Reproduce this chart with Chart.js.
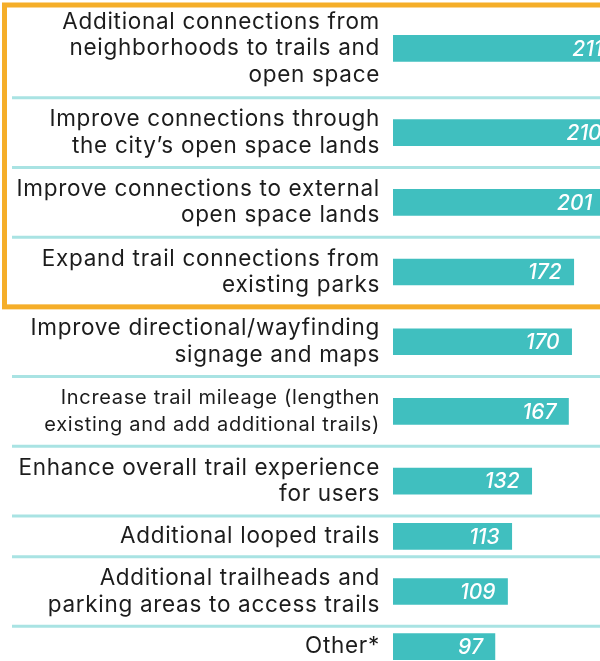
<!DOCTYPE html>
<html><head><meta charset="utf-8">
<script src="https://cdn.jsdelivr.net/npm/chart.js@4.4.0/dist/chart.umd.min.js"></script>
<style>
html,body{margin:0;padding:0;background:#fff;overflow:hidden;width:600px;height:661px}
#wrap{position:absolute;left:0;top:-1px;width:600px;height:668px}
</style>
</head><body><div id="wrap"><canvas id="c" width="600" height="668"></canvas></div>
<script>
const categories = [
  ["Additional connections from", "neighborhoods to trails and", "open space"],
  ["Improve connections through", "the city’s open space lands"],
  ["Improve connections to external", "open space lands"],
  ["Expand trail connections from", "existing parks"],
  ["Improve directional/wayfinding", "signage and maps"],
  ["Increase trail mileage (lengthen", "existing and add additional trails)"],
  ["Enhance overall trail experience", "for users"],
  ["Additional looped trails"],
  ["Additional trailheads and", "parking areas to access trails"],
  ["Other*"]
];
const values = [211, 210, 201, 172, 170, 167, 132, 113, 109, 97];
const highlightedCount = 4;

// row layout derived from label line counts
const rowSizes = categories.map(l => l.length + 0.4);
const rowStarts = [];
let acc = 0;
rowSizes.forEach(s => { rowStarts.push(acc); acc += s; });
const rowCenters = rowStarts.map((s, i) => s + rowSizes[i] / 2);
const totalRows = acc;

const FONT = "Inter, 'Open Sans', sans-serif";

const categoryLabels = {
  id: 'categoryLabels',
  afterDraw(chart) {
    const {ctx, scales: {y}, chartArea} = chart;
    ctx.save();
    ctx.fillStyle = '#1c1c1c';
    ctx.textAlign = 'right';
    ctx.textBaseline = 'middle';
    ctx.letterSpacing = '0.7px';
    const lh = 26.5;
    categories.forEach((lines, i) => {
      const longest = Math.max(...lines.map(l => l.length));
      const size = longest > 33 ? 20 : 22.5;
      ctx.font = `400 ${size}px ${FONT}`;
      const cy = y.getPixelForValue(rowCenters[i]);
      const y0 = cy - (lines.length - 1) * lh / 2;
      lines.forEach((line, j) => ctx.fillText(line, chartArea.left - 13, y0 + j * lh));
    });
    ctx.restore();
  }
};

const separators = {
  id: 'separators',
  beforeDatasetsDraw(chart) {
    const {ctx, scales: {y}, width} = chart;
    ctx.save();
    ctx.strokeStyle = '#a9e3e3';
    ctx.lineWidth = 3;
    rowStarts.forEach((s, i) => {
      if (i === 0 || i === highlightedCount) return;
      const py = y.getPixelForValue(s);
      ctx.beginPath();
      ctx.moveTo(12, py);
      ctx.lineTo(width, py);
      ctx.stroke();
    });
    ctx.restore();
  }
};

const highlightBox = {
  id: 'highlightBox',
  afterDatasetsDraw(chart) {
    const {ctx, scales: {y}, width} = chart;
    const top = y.getPixelForValue(0) + 6;
    const bottom = y.getPixelForValue(rowStarts[highlightedCount]);
    ctx.save();
    ctx.strokeStyle = '#f5ae29';
    ctx.lineWidth = 5;
    ctx.strokeRect(4.5, top, width + 20, bottom - top);
    ctx.restore();
  }
};

const valueLabels = {
  id: 'valueLabels',
  afterDatasetsDraw(chart) {
    const {ctx} = chart;
    const meta = chart.getDatasetMeta(0);
    ctx.save();
    ctx.fillStyle = '#ffffff';
    ctx.font = "italic 500 21px " + FONT;
    ctx.textAlign = 'right';
    ctx.textBaseline = 'middle';
    meta.data.forEach((bar, i) => {
      ctx.fillText(String(values[i]), bar.x - 12, bar.y + 1);
    });
    ctx.restore();
  }
};

new Chart(document.getElementById('c'), {
  type: 'bar',
  data: {
    datasets: [{
      data: values.map((v, i) => ({x: v, y: rowCenters[i]})),
      backgroundColor: '#40bfbf',
      borderWidth: 0,
      barThickness: 26
    }]
  },
  options: {
    indexAxis: 'y',
    responsive: false,
    animation: false,
    layout: {padding: {left: 393, top: 0, right: 0, bottom: 0}},
    plugins: {legend: {display: false}, tooltip: {enabled: false}},
    scales: {
      x: {type: 'linear', min: 0, max: 197, display: false, offset: false},
      y: {type: 'linear', reverse: true, min: 0, max: totalRows, display: false, offset: false}
    }
  },
  plugins: [separators, highlightBox, valueLabels, categoryLabels]
});
</script>
</body></html>
